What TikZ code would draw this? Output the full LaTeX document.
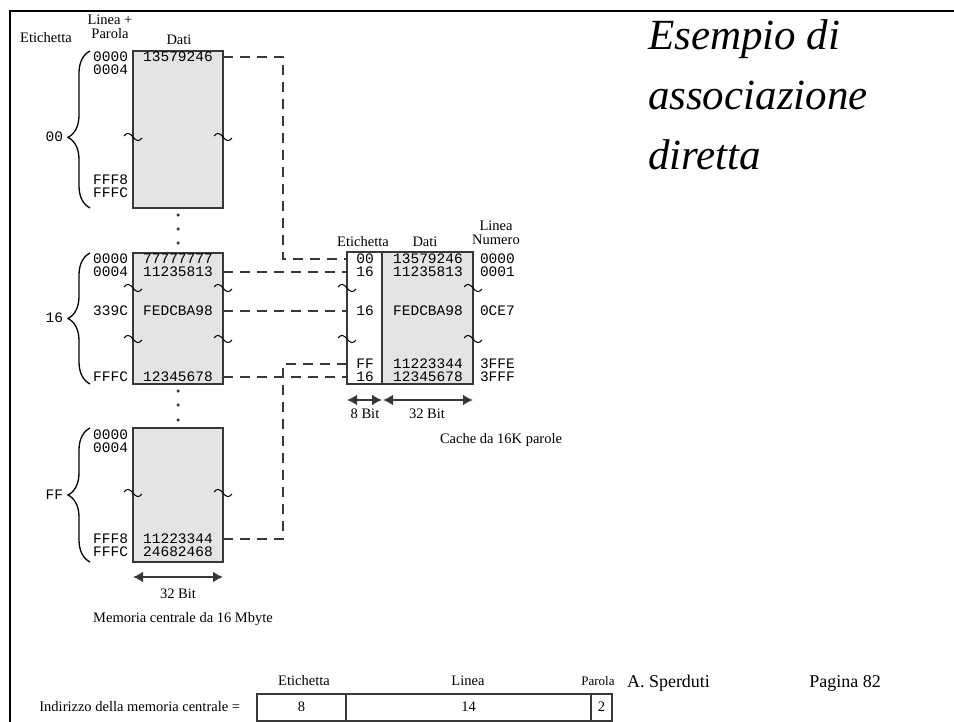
\documentclass[tikz,border=0pt]{standalone}
\usepackage{fontspec}
\setmainfont{Liberation Serif}
\setmonofont{Liberation Mono}
\usepackage{xcolor}
\usetikzlibrary{positioning, fit, arrows.meta, decorations.pathreplacing}

\definecolor{ink}{HTML}{383838}
\definecolor{memfill}{HTML}{E4E4E4}

\begin{document}
\begin{tikzpicture}[x=1pt, y=-1pt,
    every node/.style={inner sep=0pt, outer sep=0pt},
    lbl/.style={font=\fontsize{14.5}{14}\selectfont},
    addr/.style={font=\ttfamily\fontsize{14.5}{15}\selectfont, text height=8.5pt, text depth=0pt, anchor=east},
    word/.style={font=\ttfamily\fontsize{14.5}{15}\selectfont, text height=8.5pt, text depth=0pt},
    title/.style={font=\itshape\fontsize{43}{58}\selectfont, anchor=base west},
    membox/.style={draw=ink, line width=1.8pt, fill=memfill},
    tagbox/.style={draw=ink, line width=1.8pt, fill=white},
    field/.style={draw=ink, line width=2pt, minimum height=27pt, font=\fontsize{14.5}{16}\selectfont},
    link/.style={draw=ink, line width=2pt, dash pattern=on 10pt off 7pt},
    span/.style={draw=ink, line width=2.5pt, {Latex[length=10pt, width=11pt]}-{Latex[length=10pt, width=11pt]}},
    brace/.style={draw, line width=1.3pt, decorate, decoration={brace, amplitude=22pt, aspect=0.5}},
    gapmark/.pic={\draw[line width=1pt] (-9,-1) .. controls (-6,-5) and (-3,-4) .. (0,0) .. controls (3,4) and (6,5) .. (9,1);},
    dot/.style={circle, fill=ink, minimum size=3.5pt}]

    \useasboundingbox (0,0) rectangle (954,722);
    % Frame
    \draw[line width=2.5pt] (10,722) -- (10,11) -- (954,11);

    % Title
    \node[title] (title1) at (648,50) {Esempio di};
    \node[title] (title2) at (648,110) {associazione};
    \node[title] (title3) at (648,170) {diretta};

    % Main memory headings
    \node[lbl, align=center] (hdrLP) at (110,27) {Linea +\\Parola};
    \node[lbl] (hdrTag) at (46,38) {Etichetta};
    \node[lbl] (hdrDati) at (179,40) {Dati};

    % Main memory blocks
    \node[membox, minimum width=90pt, minimum height=157pt] (m1) at (178,129.5) {};
    \node[membox, minimum width=90pt, minimum height=131pt] (m2) at (178,318.5) {};
    \node[membox, minimum width=90pt, minimum height=134pt] (m3) at (178,495) {};

    % Block 00
    \node[addr] (m1a0) at (128,57) {0000};
    \node[word] (m1d0) at (178,57) {13579246};
    \node[addr] (m1a1) at (128,70) {0004};
    \node[addr] (m1a2) at (128,180) {FFF8};
    \node[addr] (m1a3) at (128,193) {FFFC};
    \pic at (m1.west |- 0,137) {gapmark};
    \pic at (m1.east |- 0,137) {gapmark};
    \draw[brace, decoration={aspect=0.45}] (90,208) -- (90,51);
    \node[word, anchor=east] (m1tag) at (63,137) {00};

    % Block 16
    \node[addr] (m2a0) at (128,259) {0000};
    \node[word] (m2d0) at (178,259) {77777777};
    \node[addr] (m2a1) at (128,272) {0004};
    \node[word] (m2d1) at (178,272) {11235813};
    \node[addr] (m2a2) at (128,311) {339C};
    \node[word] (m2d2) at (178,311) {FEDCBA98};
    \node[addr] (m2a3) at (128,377) {FFFC};
    \node[word] (m2d3) at (178,377) {12345678};
    \pic at (m2.west |- 0,288) {gapmark};
    \pic at (m2.east |- 0,288) {gapmark};
    \pic at (m2.west |- 0,339) {gapmark};
    \pic at (m2.east |- 0,339) {gapmark};
    \draw[brace] (90,384) -- (90,253);
    \node[word, anchor=east] (m2tag) at (63,318) {16};

    % Block FF
    \node[addr] (m3a0) at (128,435) {0000};
    \node[addr] (m3a1) at (128,448) {0004};
    \node[addr] (m3a2) at (128,539) {FFF8};
    \node[word] (m3d0) at (178,539) {11223344};
    \node[addr] (m3a3) at (128,552) {FFFC};
    \node[word] (m3d1) at (178,552) {24682468};
    \pic at (m3.west |- 0,493) {gapmark};
    \pic at (m3.east |- 0,493) {gapmark};
    \draw[brace] (90,562) -- (90,428);
    \node[word, anchor=east] (m3tag) at (63,495) {FF};

    % Dots between blocks
    \node[dot] (dot1) at (178,215) {};
    \node[dot] (dot2) at (178,229) {};
    \node[dot] (dot3) at (178,243) {};
    \node[dot] (dot4) at (178,391) {};
    \node[dot] (dot5) at (178,405) {};
    \node[dot] (dot6) at (178,420) {};

    % Memory width
    \draw[span] (m3.south west |- 0,577) -- (m3.south east |- 0,577);
    \node[lbl] (memBits) at (178,594) {32 Bit};
    \node[lbl] (memCap) at (183,619) {Memoria centrale da 16 Mbyte};

    % Cache
    \node[tagbox, minimum width=35pt, minimum height=132pt] (ctag) at (364.5,318) {};
    \node[membox, minimum width=91pt, minimum height=132pt] (cdat) at (427.5,318) {};
    \node[lbl] (cHdrTag) at (363,242) {Etichetta};
    \node[lbl] (cHdrDati) at (425,242) {Dati};
    \node[lbl, align=center] (cHdrLN) at (496,233) {Linea\\Numero};

    \node[word] (c0) at (365,259) {00};
    \node[word] (c1) at (365,272) {16};
    \node[word] (c2) at (365,311) {16};
    \node[word] (c3) at (365,364) {FF};
    \node[word] (c4) at (365,377) {16};
    \node[word] (cd0) at (428,259) {13579246};
    \node[word] (cd1) at (428,272) {11235813};
    \node[word] (cd2) at (428,311) {FEDCBA98};
    \node[word] (cd3) at (428,364) {11223344};
    \node[word] (cd4) at (428,377) {12345678};
    \node[word, anchor=west] (cn0) at (480,259) {0000};
    \node[word, anchor=west] (cn1) at (480,272) {0001};
    \node[word, anchor=west] (cn2) at (480,311) {0CE7};
    \node[word, anchor=west] (cn3) at (480,364) {3FFE};
    \node[word, anchor=west] (cn4) at (480,377) {3FFF};
    \pic at (ctag.west |- 0,288) {gapmark};
    \pic at (cdat.east |- 0,288) {gapmark};
    \pic at (ctag.west |- 0,339) {gapmark};
    \pic at (cdat.east |- 0,339) {gapmark};

    % Cache widths
    \draw[span] (ctag.west |- 0,400) -- (ctag.east |- 0,400);
    \draw[span] ([xshift=1pt]cdat.west |- 0,400) -- (cdat.east |- 0,400);
    \node[lbl] (tagBits) at (365,414) {8 Bit};
    \node[lbl] (datBits) at (427,414) {32 Bit};
    \node[lbl] (cacheCap) at (501,440) {Cache da 16K parole};

    % Mapping lines
    \coordinate (bus) at (283,0);
    \draw[link] (m1.east |- m1d0) -| (bus |- c0) -- (ctag.west |- c0);
    \draw[link] (m2.east |- m2d1) -- (ctag.west |- c1);
    \draw[link] (m2.east |- m2d2) -- (ctag.west |- c2);
    \draw[link] (m2.east |- m2d3) -- (ctag.west |- c4);
    \draw[link] (m3.east |- m3d0) -| (bus |- c3) -- (ctag.west |- c3);

    % Address format
    \node[lbl, anchor=east] (addrText) at (240,707) {Indirizzo della memoria centrale =};
    \node[field, minimum width=89pt] (fTag) at (301.5,707) {8};
    \node[field, minimum width=245pt] (fLine) at (468.5,707) {14};
    \node[field, minimum width=21pt] (fWord) at (601.5,707) {2};
    \node[lbl] (fTagLbl) at (304,681) {Etichetta};
    \node[lbl] (fLineLbl) at (468,681) {Linea};
    \node[lbl, font=\fontsize{13}{14}\selectfont] (fWordLbl) at (598,681) {Parola};

    % Footer
    \node[lbl, font=\fontsize{18}{20}\selectfont, anchor=west] (author) at (627,683) {A. Sperduti};
    \node[lbl, font=\fontsize{18}{20}\selectfont] (page) at (845,683) {Pagina 82};
\end{tikzpicture}
\end{document}
